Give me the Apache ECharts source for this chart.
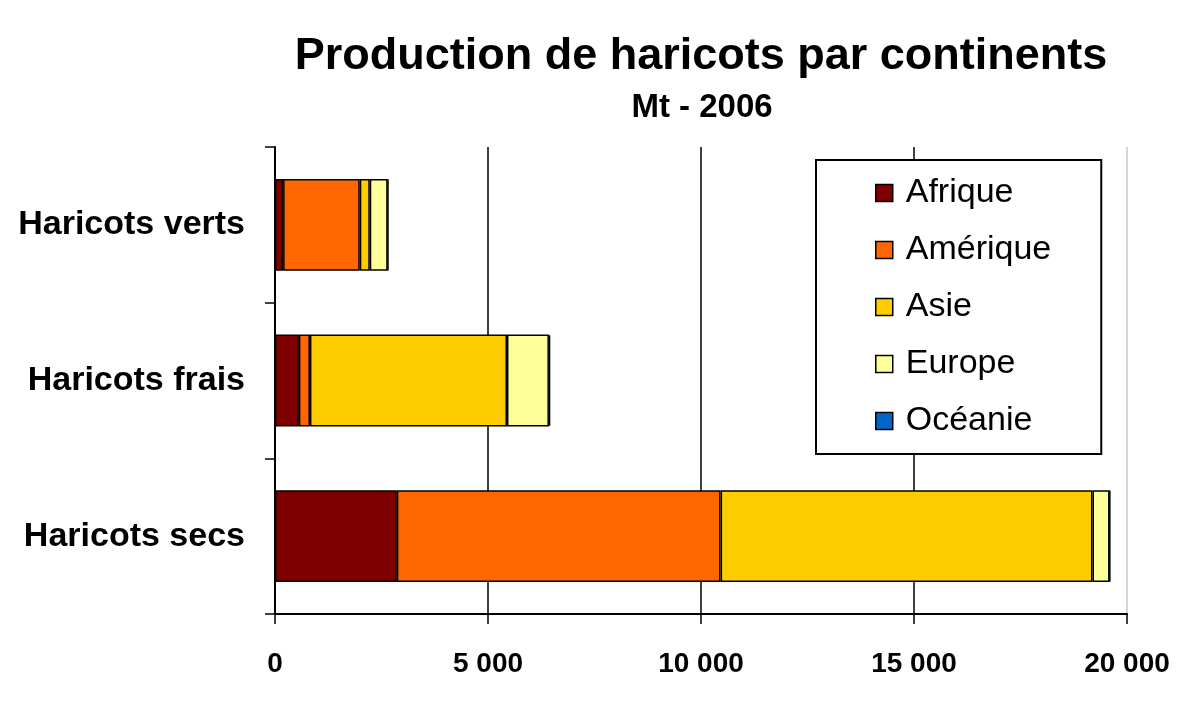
<!DOCTYPE html>
<html>
<head>
<meta charset="utf-8">
<script src="https://cdn.jsdelivr.net/npm/echarts@6/dist/echarts.min.js"></script>
<style>
    html, body { margin: 0; padding: 0; background: #fff; }
    #chart { width: 1200px; height: 722px; }
</style>
</head>
<body>
<div id="chart"></div>
<script>
// production en Mt (milliers de tonnes), 2006
const categories = ['Haricots verts', 'Haricots frais', 'Haricots secs']
const afrique = [190, 560, 2860]
const amerique = [1800, 260, 7600]
const asie = [235, 4625, 8730]
const europe = [420, 985, 400]
const oceanie = [15, 30, 15]
const xTicks = [0, 5000, 10000, 15000, 20000]

const seriesDefs = [
    { name: 'Afrique', data: afrique, color: '#800000' },
    { name: 'Amérique', data: amerique, color: '#ff6600' },
    { name: 'Asie', data: asie, color: '#ffcc00' },
    { name: 'Europe', data: europe, color: '#ffff99' },
    { name: 'Océanie', data: oceanie, color: '#0066cc' },
]

const font = '"Liberation Sans", Arial, sans-serif'
const chart = echarts.init(document.getElementById('chart'))
chart.setOption({
    animation: false,
    title: [{
        text: 'Production de haricots par continents',
        left: 696,
        top: 29,
        textAlign: 'center',
        textStyle: { fontFamily: font, fontWeight: 'bold', fontSize: 45, color: '#000' },
    }, {
        text: 'Mt - 2006',
        left: 697,
        top: 86,
        textAlign: 'center',
        textStyle: { fontFamily: font, fontWeight: 'bold', fontSize: 33, color: '#000' },
    }],
    legend: {
        orient: 'vertical',
        left: 816,
        top: 160,
        padding: [15, 50, 15, 59],
        borderColor: '#000',
        borderWidth: 2,
        backgroundColor: '#fff',
        itemWidth: 17,
        itemHeight: 17,
        itemGap: 21,
        icon: 'rect',
        itemStyle: { borderColor: '#000', borderWidth: 1.5 },
        textStyle: { fontFamily: font, fontSize: 34, lineHeight: 36, color: '#000', padding: [0, 0, 0, 8] },
        data: seriesDefs.map(s => s.name),
    },
    grid: { left: 275, right: 73, top: 147, bottom: 108 },
    xAxis: {
        type: 'value',
        min: xTicks[0],
        max: xTicks[xTicks.length - 1],
        interval: xTicks[1] - xTicks[0],
        axisLine: { show: true, lineStyle: { color: '#000', width: 2 } },
        axisTick: { show: true, length: 10, lineStyle: { color: '#000', width: 1.5 } },
        axisLabel: {
            margin: 36,
            fontFamily: font,
            fontWeight: 'bold',
            fontSize: 28,
            color: '#000',
            formatter: v => String(v).replace(/\B(?=(\d{3})+(?!\d))/g, ' '),
        },
        splitLine: { show: true, lineStyle: { color: ['#000', '#000', '#000', '#000', '#c8c8c8'], width: 1.5 } },
    },
    yAxis: {
        type: 'category',
        inverse: true,
        data: categories,
        axisLine: { show: true, lineStyle: { color: '#000', width: 2 } },
        axisTick: { show: true, length: 10, lineStyle: { color: '#000', width: 1.5 } },
        axisLabel: {
            margin: 30,
            fontFamily: font,
            fontWeight: 'bold',
            fontSize: 34,
            color: '#000',
        },
    },
    series: seriesDefs.map(s => ({
        name: s.name,
        type: 'bar',
        stack: 'total',
        data: s.data,
        barCategoryGap: '41%',
        itemStyle: { color: s.color, borderColor: '#000', borderWidth: 1.5 },
    })),
})
</script>
</body>
</html>
